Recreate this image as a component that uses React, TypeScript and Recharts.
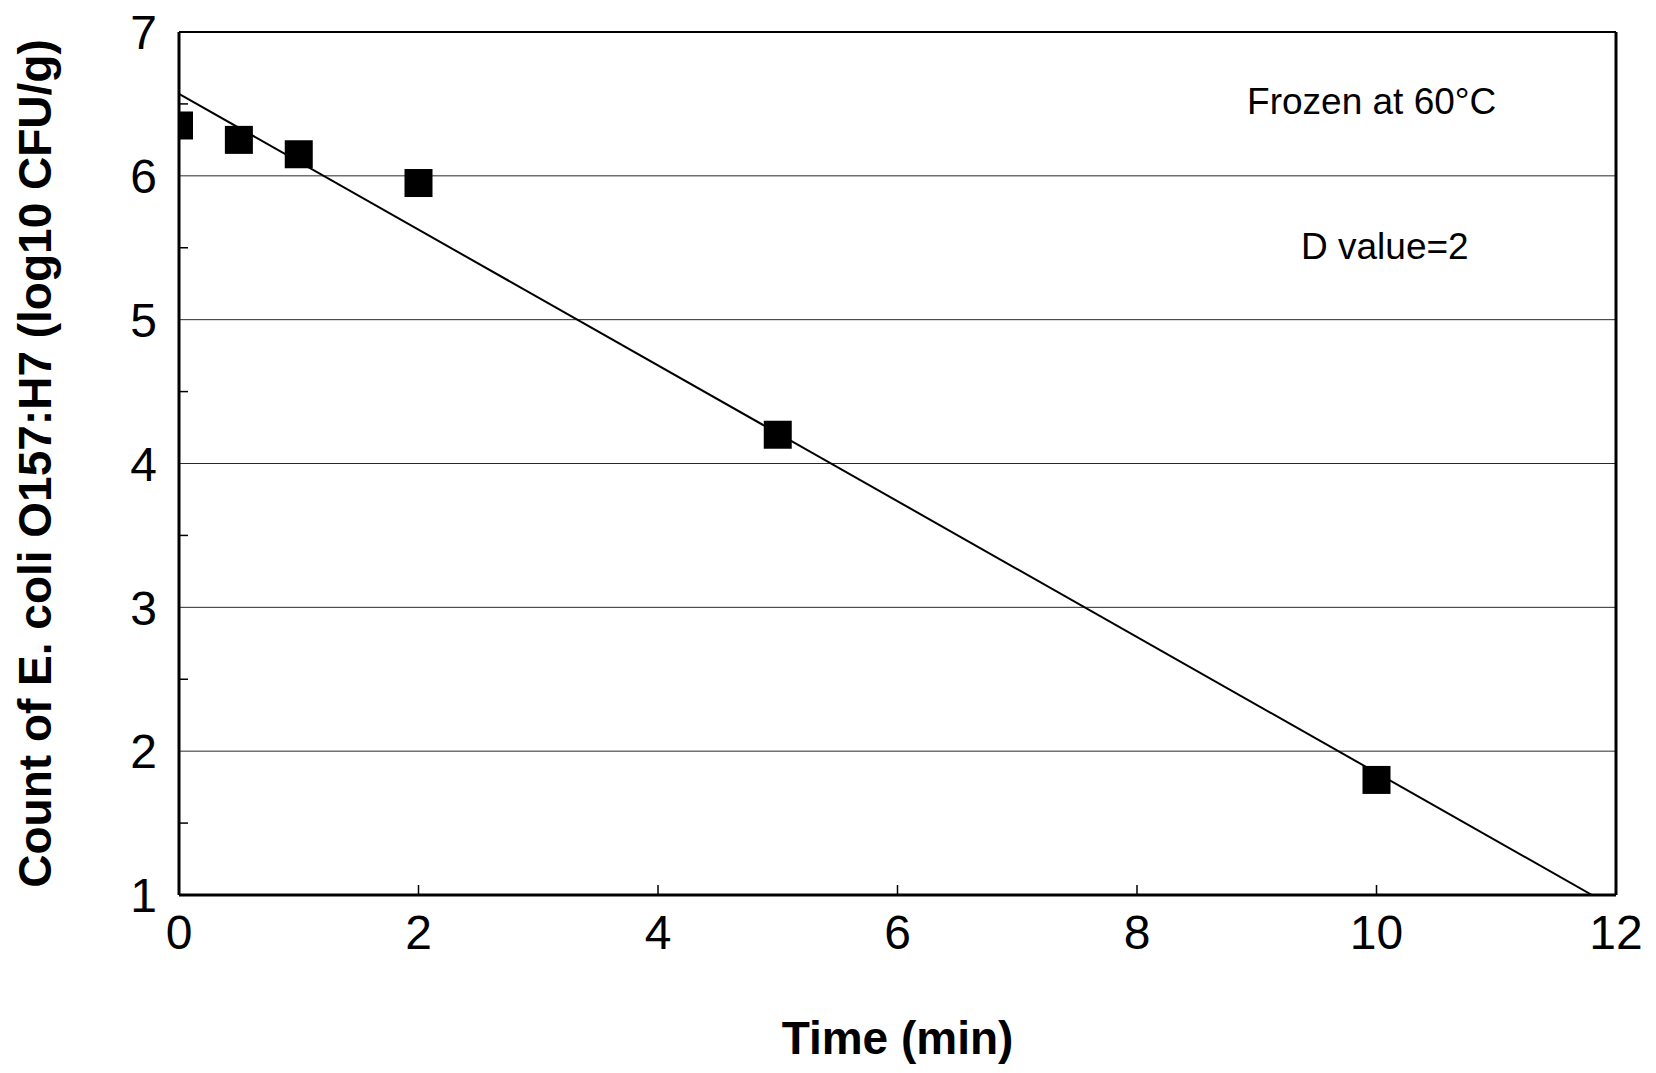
import {
  ComposedChart,
  XAxis,
  YAxis,
  Scatter,
  Line,
  ReferenceLine,
  ReferenceDot,
  Customized,
} from 'recharts'

// heating time (min) and surviving count (log10 CFU/g)
const times = [0, 0.5, 1, 2, 5, 10]
const logCounts = [6.35, 6.25, 6.15, 5.95, 4.2, 1.8]

// fitted survivor line end points
const fitTimes = [0, 11.8]
const fitCounts = [6.57, 1.0]

const xTicks = [0, 2, 4, 6, 8, 10, 12]
const yTicks = [1, 1.5, 2, 2.5, 3, 3.5, 4, 4.5, 5, 5.5, 6, 6.5, 7]
const gridLevels = [2, 3, 4, 5, 6]

const FONT = '"Liberation Sans", Arial, sans-serif'
const WIDTH = 1656
const HEIGHT = 1073
const X_AXIS_HEIGHT = 178
const Y_AXIS_WIDTH = 179
const margin = { top: 32, right: 40, bottom: 0, left: 0 }

const points = times.map((t, i) => ({ x: t, y: logCounts[i] }))
const fitLine = fitTimes.map((t, i) => ({ x: t, y: fitCounts[i] }))

function SquareMarker(props: any) {
  const { cx, cy } = props
  if (cx == null || cy == null) return null
  const s = 28
  return <rect x={cx - s / 2} y={cy - s / 2} width={s} height={s} fill="#000" />
}

function XTick(props: any) {
  const { x, y, payload } = props
  const axisY = y - 20
  return (
    <g>
      <line x1={x} x2={x} y1={axisY} y2={axisY - 10} stroke="#000" strokeWidth={1.5} />
      <text x={x} y={y} dy="0.71em" textAnchor="middle" fontFamily={FONT} fontSize={48} fill="#000">
        {payload.value}
      </text>
    </g>
  )
}

function YTick(props: any) {
  const { x, y, payload } = props
  const axisX = x + 22
  const v = payload.value
  if (!Number.isInteger(v)) {
    return <line x1={axisX} x2={axisX + 9} y1={y} y2={y} stroke="#000" strokeWidth={1.5} />
  }
  return (
    <text x={x} y={y} dy="0.36em" textAnchor="end" fontFamily={FONT} fontSize={48} fill="#000">
      {v}
    </text>
  )
}

function AxisTitles() {
  const plotLeft = Y_AXIS_WIDTH
  const plotRight = WIDTH - margin.right
  const plotTop = margin.top
  const plotBottom = HEIGHT - X_AXIS_HEIGHT
  const cy = (plotTop + plotBottom) / 2
  const tx = 35
  return (
    <g fontFamily={FONT} fontWeight="bold" fill="#000">
      <text x={(plotLeft + plotRight) / 2} y={1054} textAnchor="middle" fontSize={46}>
        Time (min)
      </text>
      <text
        x={tx}
        y={cy}
        textAnchor="middle"
        dominantBaseline="central"
        fontSize={46}
        transform={`rotate(-90 ${tx} ${cy})`}
      >
        Count of E. coli O157:H7 (log10 CFU/g)
      </text>
    </g>
  )
}

export default function App() {
  return (
    <div style={{ position: 'absolute', left: 0, top: 0, background: '#fff' }}>
      <ComposedChart width={WIDTH} height={HEIGHT} margin={margin}>
        <XAxis
          type="number"
          dataKey="x"
          domain={[0, 12]}
          ticks={xTicks}
          allowDataOverflow
          tickSize={0}
          tickMargin={20}
          tickLine={false}
          tick={<XTick />}
          axisLine={{ stroke: '#000', strokeWidth: 3 }}
          height={X_AXIS_HEIGHT}
        />
        <YAxis
          type="number"
          dataKey="y"
          domain={[1, 7]}
          ticks={yTicks}
          interval={0}
          allowDataOverflow
          tickSize={0}
          tickMargin={22}
          tickLine={false}
          tick={<YTick />}
          axisLine={{ stroke: '#000', strokeWidth: 3 }}
          width={Y_AXIS_WIDTH}
        />
        {gridLevels.map((v) => (
          <ReferenceLine key={v} y={v} stroke="#2a2a2a" strokeWidth={1} />
        ))}
        <ReferenceLine y={7} stroke="#000" strokeWidth={2} />
        <ReferenceLine x={12} stroke="#000" strokeWidth={3} />
        <Line
          data={fitLine}
          dataKey="y"
          type="linear"
          stroke="#000"
          strokeWidth={2}
          dot={false}
          activeDot={false}
          isAnimationActive={false}
        />
        <Scatter data={points} dataKey="y" shape={<SquareMarker />} isAnimationActive={false} />
        <ReferenceDot
          x={9.96}
          y={6.52}
          r={0}
          label={{ value: 'Frozen at 60°C', position: 'center', fontSize: 37, fill: '#000', fontFamily: FONT }}
        />
        <ReferenceDot
          x={10.07}
          y={5.51}
          r={0}
          label={{ value: 'D value=2', position: 'center', fontSize: 37, fill: '#000', fontFamily: FONT }}
        />
        <Customized component={AxisTitles} />
      </ComposedChart>
    </div>
  )
}
